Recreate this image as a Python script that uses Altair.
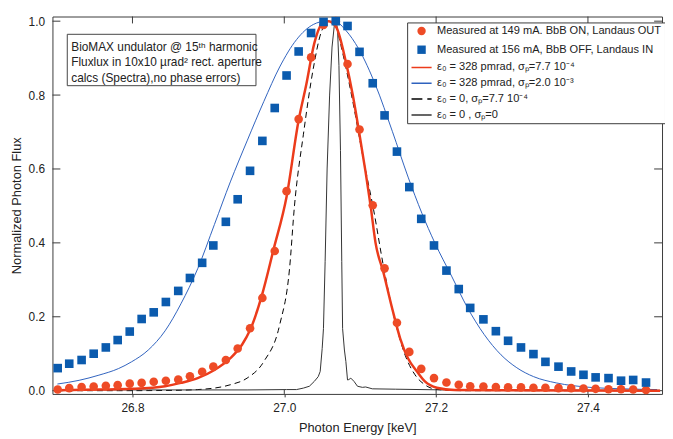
import altair as alt
import pandas as pd

W, H = 617, 382

series_names = [
    "Measured at 149 mA. BbB ON, Landaus OUT",
    "Measured at 156 mA, BbB OFF, Landaus IN",
    "ε₀ = 328 pmrad,  σₚ=7.7 10⁻⁴",
    "ε₀ = 328 pmrad,  σₚ=2.0 10⁻³",
    "ε₀ = 0,  σₚ=7.7 10⁻⁴",
    "ε₀ = 0 ,  σₚ=0",
]

# measured energy grid (keV)
meas_energy = [26.7015, 26.7167, 26.7330, 26.7489, 26.7649, 26.7805, 26.7964, 26.8121,
               26.8280, 26.8440, 26.8603, 26.8757, 26.8918, 26.9065, 26.9230, 26.9386,
               26.9549, 26.9711, 26.9874, 27.0030, 27.0189, 27.0353, 27.0517, 27.0678,
               27.0833, 27.0991, 27.1165, 27.1321, 27.1484, 27.1647, 27.1804, 27.1972,
               27.2136, 27.2298, 27.2449, 27.2623, 27.2787, 27.2948, 27.3118, 27.3282,
               27.3440, 27.3612, 27.3779, 27.3941, 27.4101, 27.4271, 27.4436, 27.4596,
               27.4765]
red_meas = [0.003, 0.007, 0.010, 0.011, 0.013, 0.015, 0.019, 0.021, 0.024, 0.027,
            0.030, 0.039, 0.051, 0.065, 0.083, 0.114, 0.169, 0.251, 0.378, 0.540,
            0.735, 0.902, 0.990, 1.000, 0.884, 0.707, 0.502, 0.331, 0.184, 0.105,
            0.059, 0.034, 0.022, 0.016, 0.012, 0.011, 0.010, 0.009, 0.009, 0.008,
            0.008, 0.007, 0.007, 0.006, 0.005, 0.004, 0.004, 0.003, 0.002]
blue_meas = [0.061, 0.073, 0.083, 0.100, 0.117, 0.137, 0.160, 0.194, 0.212, 0.240,
             0.270, 0.305, 0.346, 0.393, 0.457, 0.518, 0.595, 0.676, 0.765, 0.853,
             0.918, 0.968, 0.998, 1.000, 0.987, 0.917, 0.832, 0.745, 0.647, 0.551,
             0.465, 0.393, 0.325, 0.275, 0.224, 0.193, 0.161, 0.135, 0.117, 0.099,
             0.078, 0.065, 0.052, 0.043, 0.036, 0.034, 0.027, 0.029, 0.022]

red_line_e = [26.7011, 26.7558, 26.7987, 26.8430, 26.8638, 26.8859, 26.9080, 26.9289,
              26.9445, 26.9549, 26.9705, 26.9861, 27.0030, 27.0187, 27.0291, 27.0395,
              27.0486, 27.0577, 27.0681, 27.0811, 27.0902, 27.0980, 27.1072, 27.1137,
              27.1202, 27.1306, 27.1423, 27.1527, 27.1631, 27.1748, 27.1852, 27.2009,
              27.2243, 27.3024, 27.4950]
red_line_v = [0.001, 0.003, 0.005, 0.012, 0.021, 0.034, 0.056, 0.088,
              0.125, 0.164, 0.258, 0.384, 0.525, 0.730, 0.830, 0.940,
              0.990, 1.000, 0.985, 0.890, 0.800, 0.707, 0.590, 0.500,
              0.400, 0.320, 0.221, 0.141, 0.087, 0.052, 0.025, 0.008,
              0.002, 0.001, 0.000]

blue_line_e = [26.7011, 26.7297, 26.7558, 26.7818, 26.7987, 26.8208, 26.8430, 26.8638,
               26.8859, 26.9080, 26.9289, 26.9510, 26.9731, 26.9939, 27.0161, 27.0382,
               27.0551, 27.0681, 27.0811, 27.0980, 27.1202, 27.1423, 27.1631, 27.1813,
               27.1983, 27.2204, 27.2412, 27.2633, 27.2855, 27.3063, 27.3284, 27.3583,
               27.4026, 27.4456, 27.4911]
blue_line_v = [0.018, 0.028, 0.042, 0.060, 0.078, 0.110, 0.162, 0.235,
               0.330, 0.450, 0.565, 0.676, 0.783, 0.876, 0.950, 0.991,
               1.000, 0.998, 0.975, 0.925, 0.827, 0.702, 0.578, 0.480,
               0.400, 0.310, 0.225, 0.152, 0.097, 0.062, 0.038, 0.021,
               0.009, 0.005, 0.003]

dash_line_e = [26.7011, 26.7818, 26.8430, 26.8859, 26.9289, 26.9510, 26.9731, 26.9939,
               27.0069, 27.0134, 27.0252, 27.0382, 27.0486, 27.0590, 27.0681, 27.0746,
               27.0902, 27.1046, 27.1176, 27.1306, 27.1462, 27.1592, 27.1722, 27.1852,
               27.2022, 27.2373, 27.4950]
dash_line_v = [0.000, 0.000, 0.0005, 0.003, 0.016, 0.034, 0.079, 0.178,
               0.330, 0.500, 0.694, 0.872, 0.970, 1.000, 0.985, 0.934,
               0.783, 0.622, 0.490, 0.337, 0.186, 0.096, 0.043, 0.016,
               0.003, 0.000, 0.000]

thin_line_e = [26.7011, 26.8208, 26.9510, 27.0030, 27.0161, 27.0252, 27.0330, 27.0395,
               27.0447, 27.0473, 27.0499, 27.0516, 27.0538, 27.0564, 27.0597, 27.0629,
               27.0662, 27.0681, 27.0701, 27.0720, 27.0740, 27.0757, 27.0768, 27.0792,
               27.0811, 27.0833, 27.0850, 27.0876, 27.0919, 27.0964, 27.1029, 27.1072,
               27.1159, 27.1462, 27.2113, 27.4950]
thin_line_v = [0.002, 0.002, 0.002, 0.003, 0.003, 0.007, 0.012, 0.025,
               0.038, 0.052, 0.114, 0.168, 0.350, 0.600, 0.800, 0.930,
               0.995, 1.000, 0.980, 0.880, 0.650, 0.350, 0.168, 0.110,
               0.079, 0.029, 0.030, 0.034, 0.025, 0.012, 0.009, 0.010,
               0.005, 0.004, 0.002, 0.001]

x_ticks = [26.8, 27.0, 27.2, 27.4]
y_ticks = [0.0, 0.2, 0.4, 0.6, 0.8, 1.0]

note_text = "BioMAX undulator @ 15ᵗʰ harmonic\nFluxlux in 10x10 µrad² rect. aperture\ncalcs (Spectra),no phase errors)"

RED_PT = "#EE4B26"
BLUE_PT = "#0B5BAE"
RED_LN = "#EC3B1B"
BLUE_LN = "#2F62BE"
FRAME = "#3a3a3a"
FONT = "Liberation Sans"

xscale = alt.Scale(domain=[26.6946, 27.4976], nice=False, zero=False)
yscale = alt.Scale(domain=[-0.0088, 1.0126], nice=False, zero=False)


def line_df(e, v):
    return pd.DataFrame({"e": e, "v": v})


def curve(e, v, **mark):
    return alt.Chart(line_df(e, v)).mark_line(clip=True, **mark).encode(
        x=alt.X("e:Q", scale=xscale, axis=None),
        y=alt.Y("v:Q", scale=yscale, axis=None),
    )


blue_line = curve(blue_line_e, blue_line_v, color=BLUE_LN, strokeWidth=1, interpolate="monotone")
dash_line = curve(dash_line_e, dash_line_v, color="black", strokeWidth=1, strokeDash=[6, 4],
                  interpolate="monotone")
thin_line = curve(thin_line_e, thin_line_v, color="#333333", strokeWidth=1)
red_line = curve(red_line_e, red_line_v, color=RED_LN, strokeWidth=2.5, interpolate="monotone")

n = len(meas_energy)
pts_df = pd.DataFrame({
    "e": meas_energy + meas_energy,
    "v": red_meas + blue_meas,
    "series": [series_names[0]] * n + [series_names[1]] * n,
})

fill_range = [RED_PT, BLUE_PT, "transparent", "transparent", "transparent", "transparent"]
stroke_range = ["transparent", "transparent", RED_LN, BLUE_LN, "black", "#333333"]
shape_range = ["circle", "square", "M-2.4,0H2.4", "M-2.4,0H2.4", "M-2.4,0H2.4", "M-2.4,0H2.4"]
dash_range = [[1, 0], [1, 0], [1, 0], [1, 0], [11, 5], [1, 0]]

points = alt.Chart(pts_df).mark_point(filled=True, size=76, opacity=1).encode(
    x=alt.X("e:Q", scale=xscale,
            axis=alt.Axis(orient="bottom", values=x_ticks, format=".1f", tickSize=3,
                          labelPadding=6, domain=False, grid=False,
                          title="Photon Energy [keV]", titlePadding=8)),
    y=alt.Y("v:Q", scale=yscale,
            axis=alt.Axis(orient="left", values=y_ticks, format=".1f", ticks=False,
                          tickSize=0, labelPadding=8, domain=False, grid=False,
                          title="Normalized Photon Flux", titlePadding=5)),
    fill=alt.Fill("series:N", scale=alt.Scale(domain=series_names, range=fill_range),
                  legend=alt.Legend(title=None)),
    stroke=alt.Stroke("series:N", scale=alt.Scale(domain=series_names, range=stroke_range),
                      legend=alt.Legend(title=None)),
    shape=alt.Shape("series:N", scale=alt.Scale(domain=series_names, range=shape_range),
                    legend=alt.Legend(title=None)),
    strokeDash=alt.StrokeDash("series:N", scale=alt.Scale(domain=series_names, range=dash_range),
                              legend=alt.Legend(title=None)),
    order=alt.Order("series:N"),
)

# inward-pointing tick marks on all four frame sides, placed by the scales
xt_df = pd.DataFrame({"t": x_ticks})
yt_df = pd.DataFrame({"t": y_ticks})
top_ticks = alt.Chart(xt_df).mark_rule(color=FRAME, strokeWidth=1).encode(
    x=alt.X("t:Q", scale=xscale, axis=None), y=alt.value(0), y2=alt.value(7))
bottom_ticks = alt.Chart(xt_df).mark_rule(color=FRAME, strokeWidth=1).encode(
    x=alt.X("t:Q", scale=xscale, axis=None), y=alt.value(H - 4), y2=alt.value(H))
left_ticks = alt.Chart(yt_df).mark_rule(color=FRAME, strokeWidth=1).encode(
    y=alt.Y("t:Q", scale=yscale, axis=None), x=alt.value(0), x2=alt.value(8))
right_ticks = alt.Chart(yt_df).mark_rule(color=FRAME, strokeWidth=1).encode(
    y=alt.Y("t:Q", scale=yscale, axis=None), x=alt.value(W - 8), x2=alt.value(W))

one = pd.DataFrame({"k": [0]})
note_box = alt.Chart(one).mark_rect(fill="white", stroke="#444444", strokeWidth=1).encode(
    x=alt.value(15), x2=alt.value(206), y=alt.value(18), y2=alt.value(70)
)
note = alt.Chart(one).mark_text(
    align="left", baseline="alphabetic", font=FONT, fontSize=12, color="#222222",
    lineBreak="\n", lineHeight=15.5
).encode(x=alt.value(19), y=alt.value(35), text=alt.value(note_text))

chart = alt.layer(
    top_ticks, bottom_ticks, left_ticks, right_ticks,
    blue_line, dash_line, thin_line, red_line, points, note_box, note
).resolve_axis(
    x="independent", y="independent"
).properties(
    width=W, height=H,
    autosize=alt.AutoSizeParams(type="none"),
    padding={"left": 45, "top": 6, "right": 3, "bottom": 43},
).configure_view(
    stroke=FRAME, strokeWidth=1
).configure_axis(
    labelFont=FONT, titleFont=FONT, labelFontSize=12, titleFontSize=13,
    labelColor="#222222", titleColor="#222222", titleFontWeight="normal",
    tickColor=FRAME,
).configure_legend(
    orient="none", legendX=359, legendY=6, strokeColor=FRAME, fillColor="white",
    padding=3, labelFont=FONT, labelFontSize=11.2, labelColor="#222222", rowPadding=4,
    symbolSize=72, symbolStrokeWidth=1.5, labelLimit=400, labelOffset=10, symbolOffset=6,
)

chart.save("out.html", embed_options={"renderer": "svg", "actions": False})
